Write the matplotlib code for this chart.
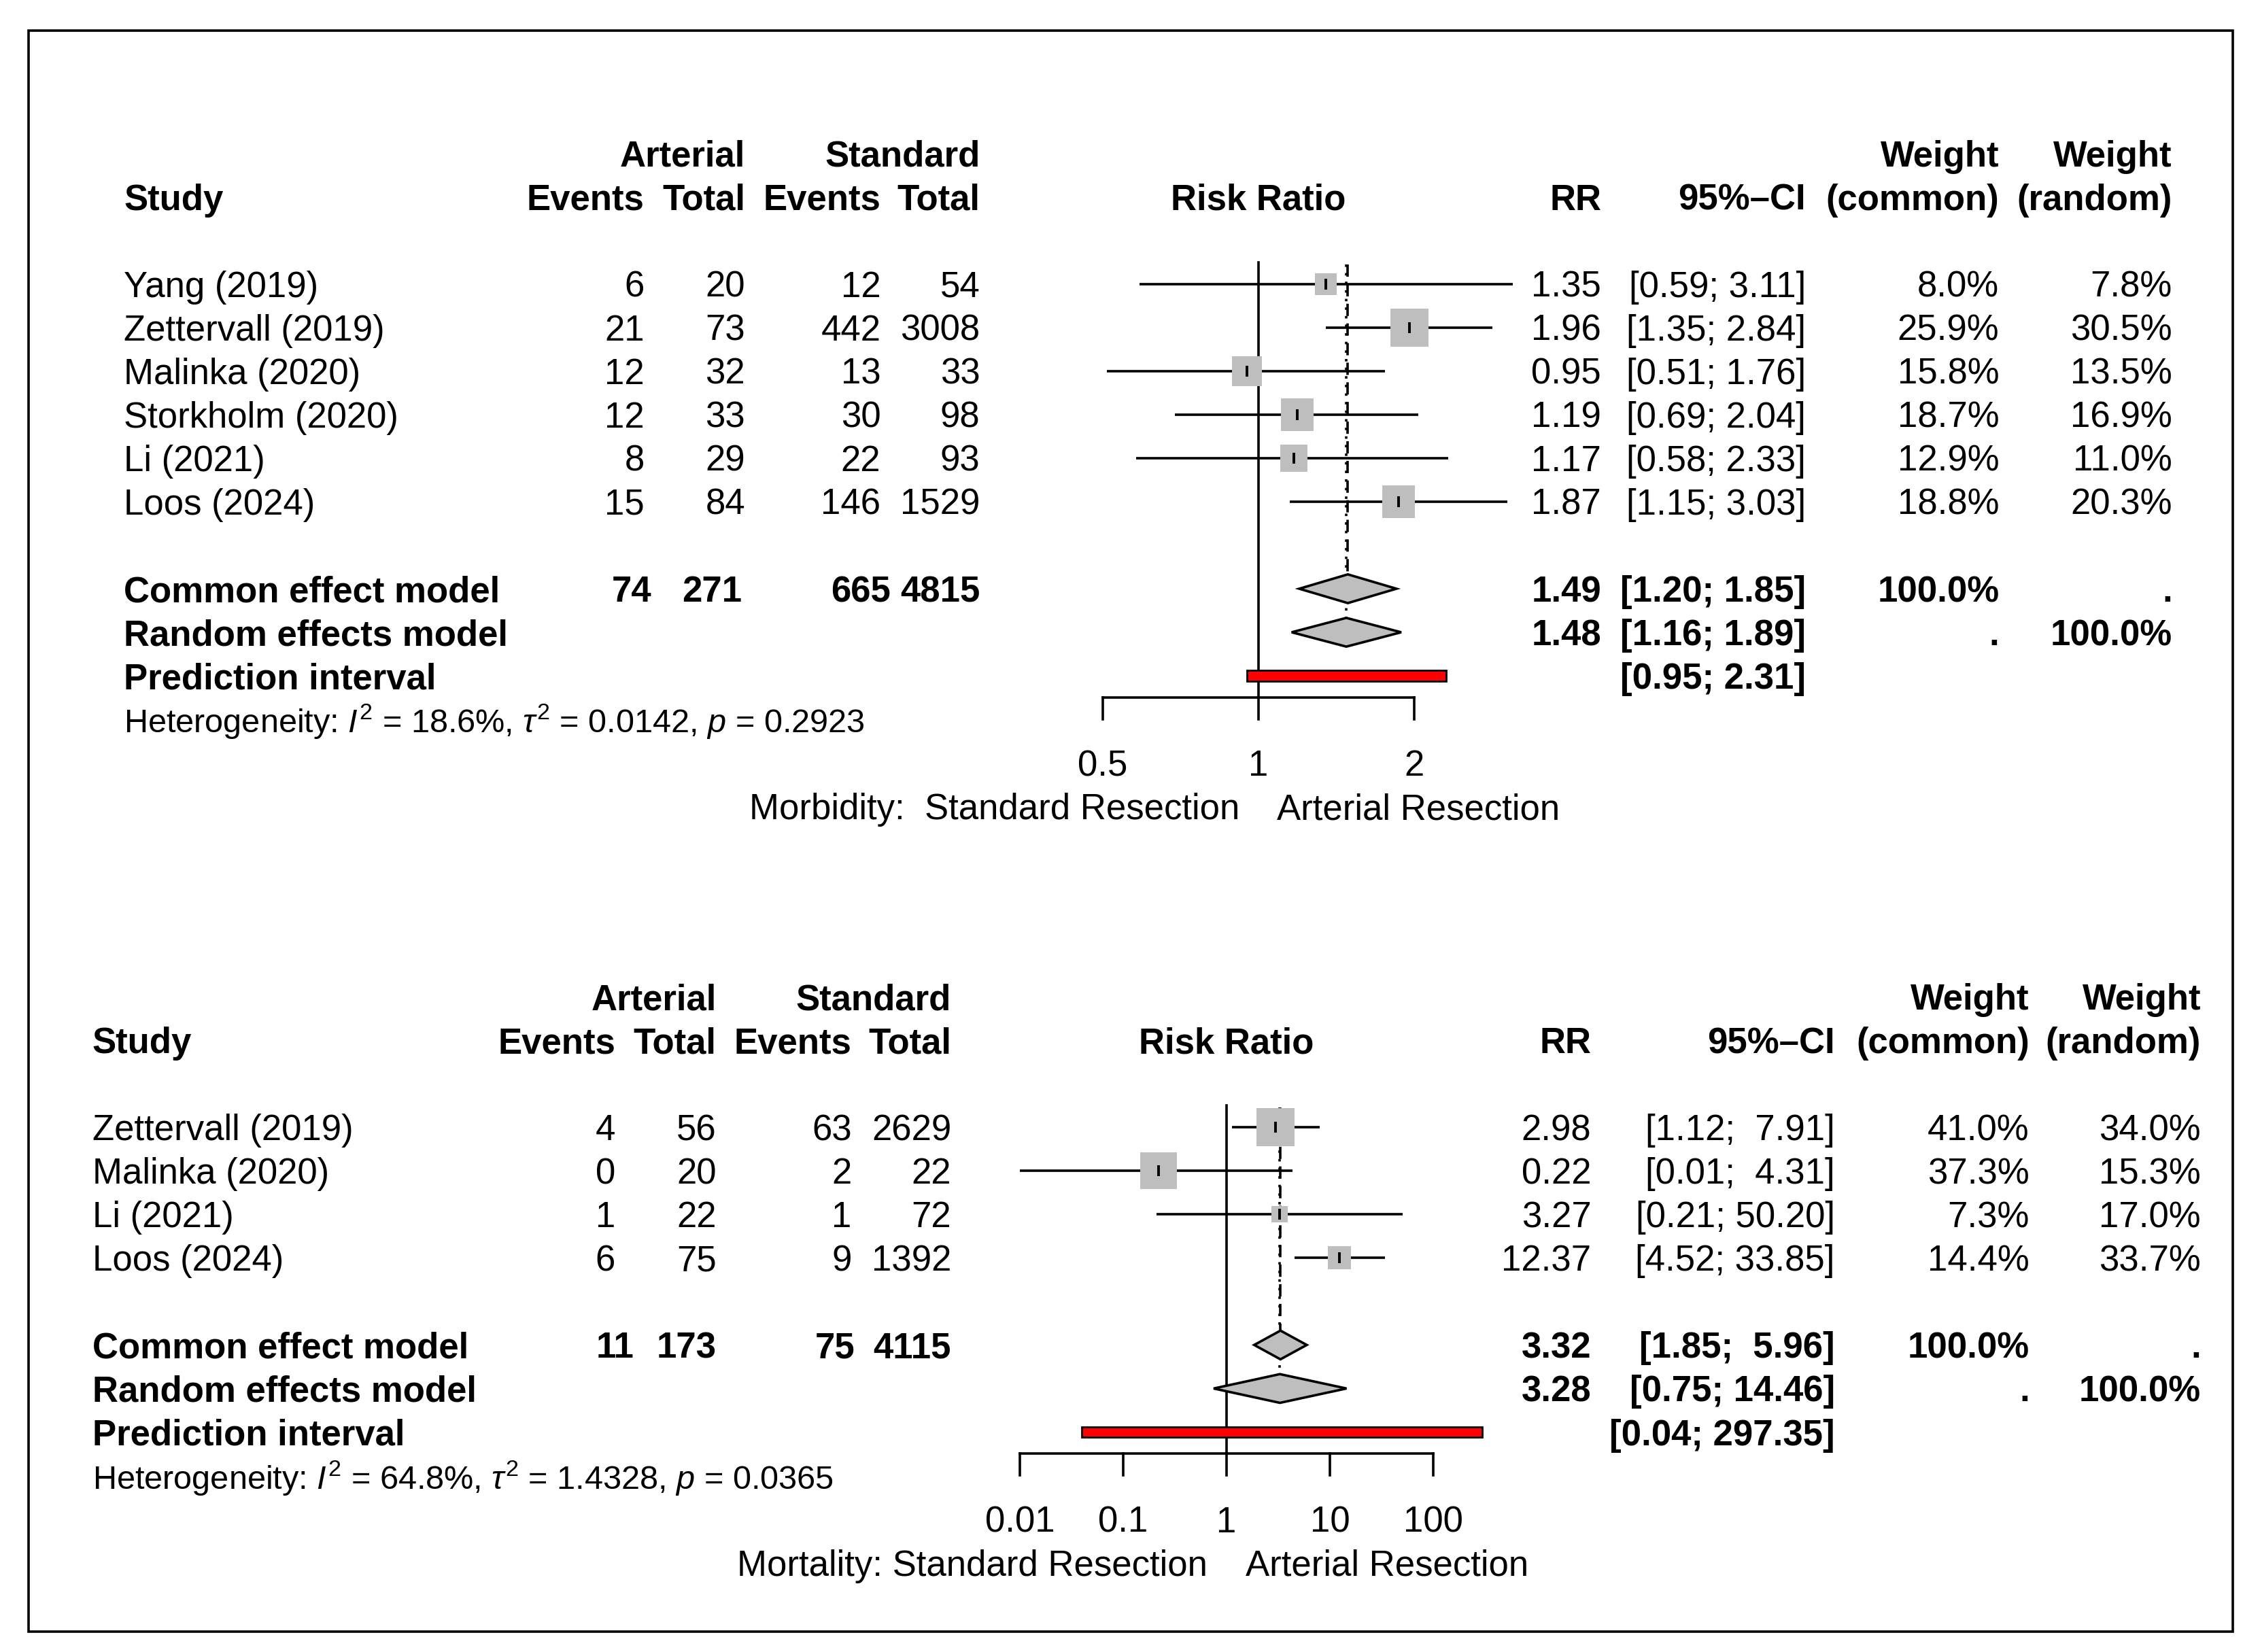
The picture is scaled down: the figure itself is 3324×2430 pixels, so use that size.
import numpy as np
import matplotlib
matplotlib.use("Agg")
import matplotlib.pyplot as plt
from matplotlib.patches import Rectangle, Polygon

plt.rcParams['font.family'] = ['Liberation Sans', 'DejaVu Sans']
plt.rcParams['mathtext.fontset'] = 'custom'
plt.rcParams['mathtext.rm'] = 'Liberation Sans'
plt.rcParams['mathtext.it'] = 'Liberation Sans:italic'
plt.rcParams['mathtext.bf'] = 'Liberation Sans:bold'

# ---- morbidity panel data
morb_studies = ["Yang (2019)", "Zettervall (2019)", "Malinka (2020)",
                "Storkholm (2020)", "Li (2021)", "Loos (2024)"]
morb_art_events = [6, 21, 12, 12, 8, 15]
morb_art_total = [20, 73, 32, 33, 29, 84]
morb_std_events = [12, 442, 13, 30, 22, 146]
morb_std_total = [54, 3008, 33, 98, 93, 1529]
morb_rr = [1.35, 1.96, 0.95, 1.19, 1.17, 1.87]
morb_lo = [0.59, 1.35, 0.51, 0.69, 0.58, 1.15]
morb_hi = [3.11, 2.84, 1.76, 2.04, 2.33, 3.03]
morb_w_common = [8.0, 25.9, 15.8, 18.7, 12.9, 18.8]
morb_w_random = [7.8, 30.5, 13.5, 16.9, 11.0, 20.3]
morb_totals = [74, 271, 665, 4815]
morb_common = [1.49, 1.20, 1.85]
morb_random = [1.48, 1.16, 1.89]
morb_pred = [0.95, 2.31]
morb_het = ["18.6%", "0.0142", "0.2923"]
morb_ticks = [0.5, 1, 2]
morb_ticklabels = ["0.5", "1", "2"]

# ---- mortality panel data
mort_studies = ["Zettervall (2019)", "Malinka (2020)", "Li (2021)", "Loos (2024)"]
mort_art_events = [4, 0, 1, 6]
mort_art_total = [56, 20, 22, 75]
mort_std_events = [63, 2, 1, 9]
mort_std_total = [2629, 22, 72, 1392]
mort_rr = [2.98, 0.22, 3.27, 12.37]
mort_lo = [1.12, 0.01, 0.21, 4.52]
mort_hi = [7.91, 4.31, 50.20, 33.85]
mort_w_common = [41.0, 37.3, 7.3, 14.4]
mort_w_random = [34.0, 15.3, 17.0, 33.7]
mort_totals = [11, 173, 75, 4115]
mort_common = [3.32, 1.85, 5.96]
mort_random = [3.28, 0.75, 14.46]
mort_pred = [0.04, 297.35]
mort_het = ["64.8%", "1.4328", "0.0365"]
mort_ticks = [0.01, 0.1, 1, 10, 100]
mort_ticklabels = ["0.01", "0.1", "1", "10", "100"]

W, H = 1568.0, 1146.0          # layout units (reference scaled down)
PITCH = 30.2                   # row height in layout units
FS = 38                        # main font size (pt)
FS_HET = 35
BASE = 9.0                     # baseline offset from row centre
GRAY = "#BEBEBE"
LW = 2.6


def fmt_ci(lo, hi, width):
    return "[{:.2f}; {:>{w}.2f}]".format(lo, hi, w=width)


def draw_panel(fig, cv, p):
    y0 = p["y0"]

    def txt(x, k, s, ha="right", bold=False, fs=FS):
        cv.text(x, y0 + k * PITCH + BASE, s, ha=ha, va="baseline",
                fontsize=fs, fontweight="bold" if bold else "normal")

    # forest axes: log x, rows on y
    fa = fig.add_axes([0, 0, 1, 1])
    fa.set_xscale("log")
    x1, dec = p["x1"], p["dec"]
    fa.set_xlim(10 ** ((0 - x1) / dec), 10 ** ((W - x1) / dec))
    fa.set_ylim((H - y0) / PITCH, (0 - y0) / PITCH)
    fa.axis("off")
    fa.patch.set_alpha(0)

    c = p["col"]
    n = len(p["studies"])
    k_common, k_random, k_pred = n + 1, n + 2, n + 3
    k_axis = k_pred + 0.5

    # headers
    txt(c["at"], -3, "Arterial", bold=True)
    txt(c["st"], -3, "Standard", bold=True)
    txt(c["wc"], -3, "Weight", bold=True)
    txt(c["wr"], -3, "Weight", bold=True)
    txt(c["study"], -2, "Study", ha="left", bold=True)
    txt(c["ae"], -2, "Events", bold=True)
    txt(c["at"], -2, "Total", bold=True)
    txt(c["se"], -2, "Events", bold=True)
    txt(c["st"], -2, "Total", bold=True)
    fa.text(1, -2 + BASE / PITCH, "Risk Ratio", ha="center", va="baseline",
            fontsize=FS, fontweight="bold")
    txt(c["rr"], -2, "RR", bold=True)
    txt(c["ci"], -2, "95%\u2013CI", bold=True)
    txt(c["wc"], -2, "(common)", bold=True)
    txt(c["wr"], -2, "(random)", bold=True)

    # study rows
    wmax = max(p["wc"])
    for i in range(n):
        txt(c["study"], i, p["studies"][i], ha="left")
        txt(c["ae"], i, str(p["ae"][i]))
        txt(c["at"], i, str(p["at"][i]))
        txt(c["se"], i, str(p["se"][i]))
        txt(c["st"], i, str(p["st"][i]))
        txt(c["rr"], i, "{:.2f}".format(p["rr"][i]))
        txt(c["ci"], i, fmt_ci(p["lo"][i], p["hi"][i], p["ciw"]))
        txt(c["wc"], i, "{:.1f}%".format(p["wc"][i]))
        txt(c["wr"], i, "{:.1f}%".format(p["wr"][i]))

        fa.plot([p["lo"][i], p["hi"][i]], [i, i], color="black", lw=LW,
                solid_capstyle="butt", zorder=2)
        side = 56 * np.sqrt(p["wc"][i] / wmax) * 0.72
        fa.plot(p["rr"][i], i, marker="s", ms=side, mfc=GRAY, mec=GRAY,
                mew=0, ls="none", zorder=3)
        fa.plot(p["rr"][i], i, marker="|", ms=12, mec="black", mew=2.8,
                ls="none", zorder=4)

    # summary rows
    txt(c["study"], k_common, "Common effect model", ha="left", bold=True)
    for x, v in zip(p["tot_x"], p["totals"]):
        txt(x, k_common, str(v), bold=True)
    est, lo, hi = p["common"]
    txt(c["rr"], k_common, "{:.2f}".format(est), bold=True)
    txt(c["ci"], k_common, fmt_ci(lo, hi, p["ciw"]), bold=True)
    txt(c["wc"], k_common, "100.0%", bold=True)
    txt(c["wr"], k_common, ".", bold=True)

    txt(c["study"], k_random, "Random effects model", ha="left", bold=True)
    est, lo, hi = p["random"]
    txt(c["rr"], k_random, "{:.2f}".format(est), bold=True)
    txt(c["ci"], k_random, fmt_ci(lo, hi, p["ciw"]), bold=True)
    txt(c["wc"], k_random, ".", bold=True)
    txt(c["wr"], k_random, "100.0%", bold=True)

    txt(c["study"], k_pred, "Prediction interval", ha="left", bold=True)
    txt(c["ci"], k_pred, "[{:.2f}; {:.2f}]".format(*p["pred"]), bold=True)

    het = p["het"]
    txt(c["study"], k_pred + 1,
        r"Heterogeneity: $I^2$ = %s, $\tau^2$ = %s, $p$ = %s" % (het[0], het[1], het[2]),
        ha="left", fs=FS_HET)

    # reference line and pooled lines
    fa.plot([1, 1], [-0.5, k_axis], color="black", lw=LW, zorder=1)
    h = 0.33
    fa.plot([p["common"][0]] * 2, [-0.45, k_common - h], color="black",
            lw=LW, ls=(0, (5, 3)), zorder=1.5)
    fa.plot([p["random"][0]] * 2, [-0.45, k_random - h], color="black",
            lw=LW, ls=(0, (1, 2.5)), zorder=1.5)

    for k, (est, lo, hi) in [(k_common, p["common"]), (k_random, p["random"])]:
        fa.add_patch(Polygon([(lo, k), (est, k - h), (hi, k), (est, k + h)],
                             closed=True, facecolor=GRAY, edgecolor="black",
                             lw=LW, zorder=3))
    plo, phi = p["pred"]
    ph = 0.12
    fa.add_patch(Polygon([(plo, k_pred - ph), (phi, k_pred - ph),
                          (phi, k_pred + ph), (plo, k_pred + ph)],
                         closed=True, facecolor="red", edgecolor="black",
                         lw=2.0, zorder=3))

    # x axis
    ticks = p["ticks"]
    fa.plot([ticks[0], ticks[-1]], [k_axis, k_axis], color="black", lw=LW,
            solid_capstyle="projecting")
    for t, lab in zip(ticks, p["ticklabels"]):
        fa.plot([t, t], [k_axis, k_axis + 0.5], color="black", lw=LW)
        fa.text(t, k_axis + 1.5 + BASE / PITCH, lab, ha="center",
                va="baseline", fontsize=FS)

    ky = k_axis + 2.5 + BASE / PITCH
    fa.annotate(p["left_label"], xy=(1, ky), xytext=(-20, 0),
                textcoords="offset points", ha="right", va="baseline",
                fontsize=FS)
    fa.annotate("Arterial Resection", xy=(1, ky), xytext=(20, 0),
                textcoords="offset points", ha="left", va="baseline",
                fontsize=FS)


def main():
    fig = plt.figure(figsize=(33.24, 24.30), dpi=100)
    cv = fig.add_axes([0, 0, 1, 1])
    cv.set_xlim(0, W)
    cv.set_ylim(H, 0)
    cv.axis("off")

    # outer frame
    cv.add_patch(Rectangle((20, 21), 1529, 1111, fill=False,
                           edgecolor="black", lw=2.6))

    top = dict(
        y0=197.0, x1=873.0, dec=108.0 / np.log10(2),
        col=dict(study=86, ae=447, at=517, se=611, st=680,
                 rr=1111, ci=1253, wc=1387, wr=1507),
        tot_x=[452, 515, 618, 680],
        studies=morb_studies, ae=morb_art_events, at=morb_art_total,
        se=morb_std_events, st=morb_std_total, rr=morb_rr, lo=morb_lo,
        hi=morb_hi, wc=morb_w_common, wr=morb_w_random, totals=morb_totals,
        common=morb_common, random=morb_random, pred=morb_pred,
        het=morb_het, ticks=morb_ticks, ticklabels=morb_ticklabels, ciw=4,
        left_label="Morbidity:  Standard Resection",
    )
    bottom = dict(
        y0=782.0, x1=851.0, dec=71.75,
        col=dict(study=64, ae=427, at=497, se=591, st=660,
                 rr=1104, ci=1273, wc=1408, wr=1527),
        tot_x=[440, 497, 593, 660],
        studies=mort_studies, ae=mort_art_events, at=mort_art_total,
        se=mort_std_events, st=mort_std_total, rr=mort_rr, lo=mort_lo,
        hi=mort_hi, wc=mort_w_common, wr=mort_w_random, totals=mort_totals,
        common=mort_common, random=mort_random, pred=mort_pred,
        het=mort_het, ticks=mort_ticks, ticklabels=mort_ticklabels, ciw=5,
        left_label="Mortality: Standard Resection",
    )
    draw_panel(fig, cv, top)
    draw_panel(fig, cv, bottom)

    fig.savefig("out.png", dpi=100)


if __name__ == '__main__':
    main()
